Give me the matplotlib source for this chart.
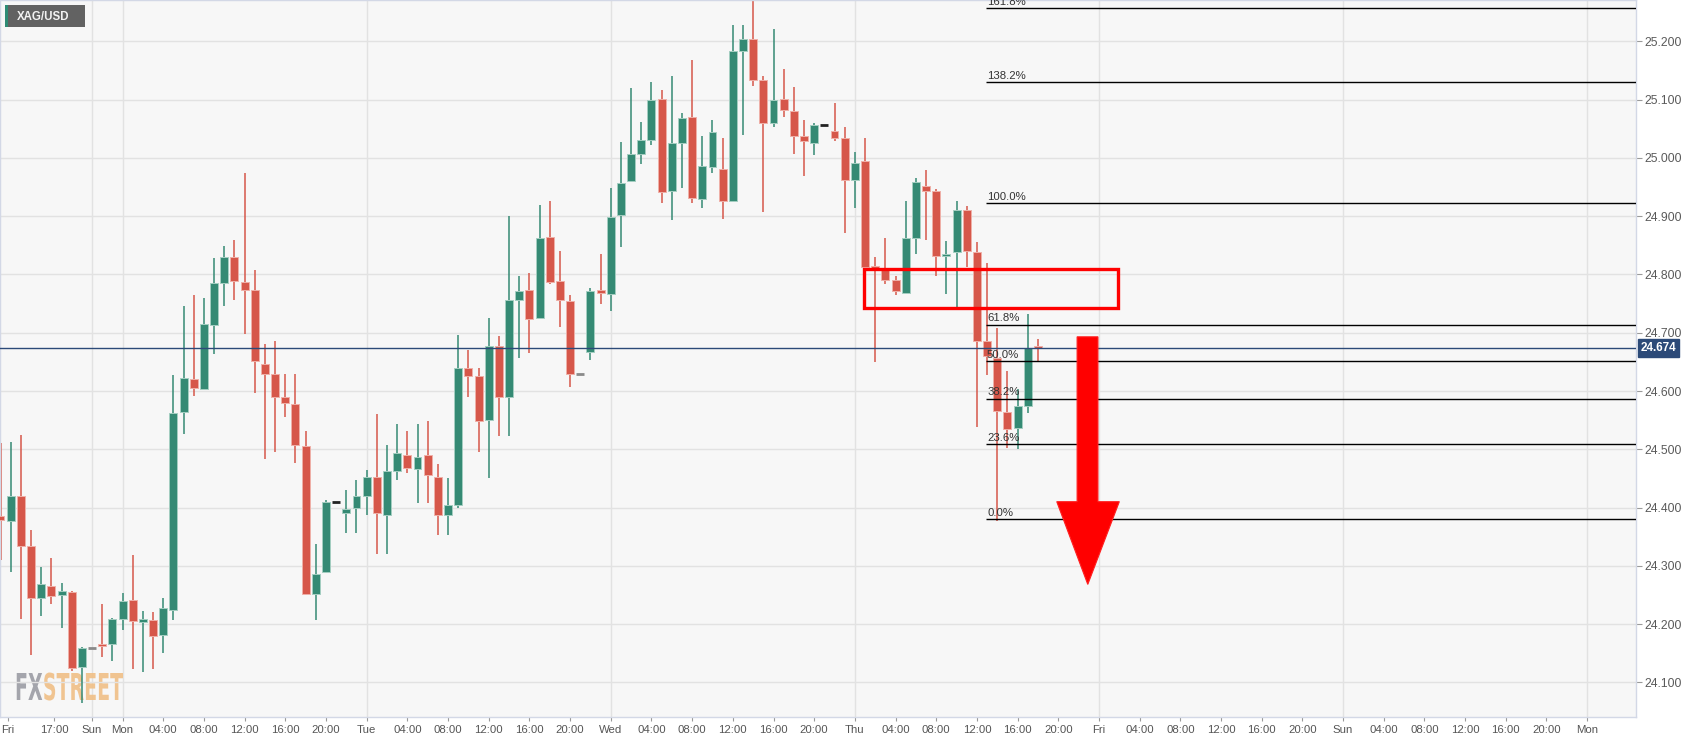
import matplotlib
matplotlib.use("Agg")
import matplotlib.pyplot as plt
from matplotlib.patches import Rectangle, Polygon, PathPatch
from matplotlib.textpath import TextPath
from matplotlib.font_manager import FontProperties, findfont
from matplotlib.transforms import Affine2D, blended_transform_factory

# hourly XAG/USD candles (bar index = position on the chart)
opens = [24.386, 24.377, 24.420, 24.334, 24.244, 24.266, 24.250, 24.255, 24.126, 24.158,
         24.164, 24.166, 24.208, 24.241, 24.204, 24.207, 24.182, 24.224, 24.564, 24.620,
         24.603, 24.714, 24.786, 24.830, 24.787, 24.773, 24.647, 24.629, 24.590, 24.578,
         24.506, 24.251, 24.290, 24.409, 24.390, 24.399, 24.419, 24.452, 24.387, 24.463,
         24.491, 24.466, 24.490, 24.453, 24.388, 24.404, 24.639, 24.626, 24.550, 24.678,
         24.589, 24.756, 24.773, 24.725, 24.864, 24.788, 24.754, 24.630, 24.667, 24.773,
         24.766, 24.902, 24.961, 25.006, 25.031, 25.101, 24.943, 25.025, 25.070, 24.930,
         24.985, 24.981, 24.927, 25.184, 25.205, 25.134, 25.060, 25.101, 25.081, 25.038,
         25.026, 25.057, 25.047, 25.035, 24.963, 24.995, 24.813, 24.811, 24.791, 24.769,
         24.863, 24.952, 24.943, 24.832, 24.839, 24.911, 24.839, 24.686, 24.656, 24.564,
         24.537, 24.575, 24.678]
highs = [24.510, 24.513, 24.524, 24.362, 24.298, 24.313, 24.271, 24.256, 24.160, 24.158,
         24.234, 24.210, 24.254, 24.318, 24.223, 24.220, 24.244, 24.627, 24.746, 24.764,
         24.759, 24.829, 24.849, 24.859, 24.975, 24.808, 24.680, 24.686, 24.629, 24.629,
         24.532, 24.338, 24.413, 24.409, 24.430, 24.447, 24.464, 24.560, 24.507, 24.544,
         24.531, 24.543, 24.548, 24.474, 24.450, 24.696, 24.670, 24.639, 24.725, 24.694,
         24.900, 24.798, 24.802, 24.919, 24.926, 24.841, 24.764, 24.630, 24.777, 24.835,
         24.949, 25.028, 25.120, 25.061, 25.130, 25.117, 25.141, 25.077, 25.168, 25.038,
         25.065, 25.035, 25.228, 25.228, 25.270, 25.140, 25.221, 25.152, 25.121, 25.065,
         25.060, 25.057, 25.094, 25.054, 25.010, 25.034, 24.830, 24.862, 24.798, 24.927,
         24.965, 24.980, 24.947, 24.858, 24.926, 24.918, 24.855, 24.819, 24.709, 24.634,
         24.603, 24.733, 24.690]
lows = [24.310, 24.290, 24.208, 24.146, 24.214, 24.234, 24.194, 24.120, 24.064, 24.158,
        24.144, 24.137, 24.189, 24.122, 24.117, 24.122, 24.150, 24.207, 24.526, 24.592,
        24.603, 24.663, 24.746, 24.757, 24.697, 24.596, 24.483, 24.495, 24.556, 24.477,
        24.249, 24.207, 24.287, 24.409, 24.356, 24.357, 24.387, 24.320, 24.321, 24.447,
        24.459, 24.407, 24.407, 24.352, 24.352, 24.400, 24.589, 24.496, 24.451, 24.523,
        24.523, 24.656, 24.665, 24.725, 24.783, 24.710, 24.607, 24.630, 24.654, 24.749,
        24.737, 24.847, 24.960, 24.989, 25.023, 24.922, 24.893, 24.949, 24.922, 24.914,
        24.975, 24.896, 24.927, 25.039, 25.124, 24.907, 25.054, 25.071, 25.006, 24.969,
        25.005, 25.057, 25.030, 24.872, 24.915, 24.813, 24.649, 24.783, 24.765, 24.768,
        24.835, 24.860, 24.798, 24.766, 24.745, 24.813, 24.539, 24.627, 24.376, 24.503,
        24.500, 24.562, 24.652]
closes = [24.378, 24.420, 24.334, 24.245, 24.268, 24.248, 24.256, 24.124, 24.158, 24.158,
          24.162, 24.209, 24.239, 24.206, 24.208, 24.180, 24.227, 24.562, 24.622, 24.605,
          24.715, 24.786, 24.830, 24.789, 24.773, 24.651, 24.630, 24.590, 24.580, 24.508,
          24.251, 24.286, 24.410, 24.409, 24.397, 24.420, 24.453, 24.390, 24.463, 24.494,
          24.467, 24.486, 24.455, 24.387, 24.404, 24.640, 24.625, 24.549, 24.678, 24.589,
          24.756, 24.772, 24.724, 24.863, 24.787, 24.757, 24.630, 24.630, 24.772, 24.769,
          24.899, 24.957, 25.006, 25.031, 25.100, 24.941, 25.025, 25.069, 24.932, 24.987,
          25.044, 24.926, 25.184, 25.205, 25.134, 25.060, 25.099, 25.082, 25.038, 25.029,
          25.057, 25.057, 25.035, 24.963, 24.992, 24.813, 24.811, 24.791, 24.771, 24.863,
          24.958, 24.943, 24.831, 24.836, 24.910, 24.840, 24.686, 24.660, 24.566, 24.535,
          24.575, 24.673, 24.673]
doji_colors = {9: "#8a8a8a", 33: "#222222", 57: "#8a8a8a", 81: "#222222"}

tick_pos = [0.7, 5.3, 9, 12, 16, 20, 24, 28, 32, 36, 40, 44, 48, 52, 56, 60, 64, 68, 72, 76, 80,
            84, 88, 92, 96, 100, 104, 108, 112, 116, 120, 124, 128, 132, 136, 140, 144, 148, 152, 156]
tick_labels = ["Fri", "17:00", "Sun", "Mon", "04:00", "08:00", "12:00", "16:00", "20:00",
               "Tue", "04:00", "08:00", "12:00", "16:00", "20:00",
               "Wed", "04:00", "08:00", "12:00", "16:00", "20:00",
               "Thu", "04:00", "08:00", "12:00", "16:00", "20:00",
               "Fri", "04:00", "08:00", "12:00", "16:00", "20:00",
               "Sun", "04:00", "08:00", "12:00", "16:00", "20:00", "Mon"]
day_lines = [9, 12, 36, 60, 84, 108, 132, 156]
y_ticks = [24.1, 24.2, 24.3, 24.4, 24.5, 24.6, 24.7, 24.8, 24.9, 25.0, 25.1, 25.2]

fib_names = ["0.0%", "23.6%", "38.2%", "50.0%", "61.8%", "100.0%", "138.2%", "161.8%"]
fib_prices = [24.380, 24.509, 24.587, 24.651, 24.714, 24.922, 25.130, 25.258]
fib_start = 96.9

last_price = 24.674
zone_x = [84.85, 109.9]
zone_y = [24.742, 24.809]
arrow_pts = [(105.85, 24.693), (107.9, 24.693), (107.9, 24.410), (110.0, 24.410),
             (106.9, 24.268), (103.85, 24.410), (105.85, 24.410)]

UP, DOWN = "#358a74", "#d6574a"
UP_EDGE, DOWN_EDGE = "#a4cec1", "#efb0a8"

W, H = 1707, 744
fig = plt.figure(figsize=(W / 100, H / 100), dpi=100, facecolor="white")
ax = fig.add_axes([0, 1 - 717 / H, 1636 / W, 717 / H])
ax.set_facecolor("#f7f7f7")
xmin, xmax = -0.05, 160.8
ax.set_xlim(xmin, xmax)
ax.set_ylim(24.0404, 25.2712)


def has_font(name):
    try:
        findfont(FontProperties(family=name), fallback_to_default=False)
        return True
    except Exception:
        return False


narrow = ["Liberation Sans Narrow"] if has_font("Liberation Sans Narrow") else []
base = ["Liberation Sans", "DejaVu Sans"]

# grid
ax.set_yticks(y_ticks)
ax.grid(axis="y", color="#e2e2e2", lw=1, zorder=0)
for d in day_lines:
    ax.axvline(d, color="#e2e2e2", lw=1, zorder=0)

# FXSTREET logo, squeezed to the box it fills in the picture
fp = FontProperties(family="DejaVu Sans", weight="bold")
p_fx = TextPath((0, 0), "FX", size=10, prop=fp)
fx_w = p_fx.get_extents().x1
p_st = TextPath((fx_w + 0.3, 0), "STREET", size=10, prop=fp)
ext_w = p_st.get_extents().x1
ext_h = p_fx.get_extents().y1
logo_tr = Affine2D().scale(108 / ext_w, 27 / ext_h).translate(15, H - 700)
ax.add_patch(PathPatch(p_fx, transform=logo_tr, color="#9b9ca4", lw=0, zorder=0.6, alpha=0.9))
ax.add_patch(PathPatch(p_st, transform=logo_tr, color="#f0bf86", lw=0, zorder=0.6, alpha=0.9))

# candles
xs = list(range(len(opens)))
wick_cols = []
for i in xs:
    if i in doji_colors:
        wick_cols.append(doji_colors[i])
    else:
        wick_cols.append(UP if closes[i] >= opens[i] else DOWN)
ax.vlines(xs, lows, highs, colors=wick_cols, lw=1.1, zorder=2)
for i in xs:
    if i in doji_colors:
        ax.hlines(closes[i], i - 0.38, i + 0.38, colors=doji_colors[i], lw=2, zorder=3)
        continue
    up = closes[i] >= opens[i]
    lo = min(opens[i], closes[i])
    hgt = max(abs(closes[i] - opens[i]), 0.004)
    ax.bar(i, hgt, bottom=lo, width=0.78, color=UP if up else DOWN,
           edgecolor=UP_EDGE if up else DOWN_EDGE, linewidth=0.7, zorder=3)

# fibonacci levels
for name, p in zip(fib_names, fib_prices):
    ax.hlines(p, fib_start, xmax, colors="black", lw=1, zorder=4)
    ax.text(fib_start + 0.1, p + 0.002, name, fontsize=8.2, color="#333333",
            family=base, va="bottom", ha="left", zorder=4)

# last price line
ax.axhline(last_price, color="#2c4a78", lw=1, zorder=4)

# resistance zone and arrow
ax.add_patch(Rectangle((zone_x[0], zone_y[0]), zone_x[1] - zone_x[0], zone_y[1] - zone_y[0],
                       fill=False, edgecolor="#ff0000", lw=2.4, zorder=5))
ax.add_patch(Polygon(arrow_pts, closed=True, facecolor="#ff0000", edgecolor="#ff2020",
                     lw=0.8, zorder=5))

# axes styling
for s in ax.spines.values():
    s.set_color("#d3d8e6")
    s.set_linewidth(1)
ax.yaxis.tick_right()
ax.yaxis.set_major_formatter(matplotlib.ticker.FormatStrFormatter("%.3f"))
ax.tick_params(axis="y", length=4, color="#9a9a9a", labelcolor="#5a5a5a",
               labelsize=8.7, pad=2)
for t in ax.get_yticklabels():
    t.set_family(base)
ax.set_xticks(tick_pos)
ax.set_xticklabels(tick_labels)
ax.tick_params(axis="x", length=3, color="#9a9a9a", labelcolor="#555555",
               labelsize=8.2, pad=3)
for t in ax.get_xticklabels():
    t.set_family(narrow + base)

# price tag on the right axis
tr = blended_transform_factory(ax.transAxes, ax.transData)
ax.text(1.003, last_price, "24.674", transform=tr, fontsize=8.5, color="white",
        weight="bold", family=base, va="center", ha="left", zorder=6, clip_on=False,
        bbox=dict(boxstyle="square,pad=0.25", facecolor="#2c4a78", edgecolor="#2c4a78"))

# symbol tag top left
fig.patches.append(Rectangle((5 / W, 1 - 27 / H), 80 / W, 22 / H, transform=fig.transFigure,
                             facecolor="#626262", edgecolor="none", zorder=10))
fig.patches.append(Rectangle((5 / W, 1 - 27 / H), 2.7 / W, 22 / H, transform=fig.transFigure,
                             facecolor="#2e8b74", edgecolor="none", zorder=11))
fig.text(17 / W, 1 - 16.5 / H, "XAG/USD", fontsize=8.3, color="#f2f2f2", family=base,
         weight="bold", va="center", ha="left", zorder=12)

fig.savefig("out.png", dpi=100, facecolor="white")
